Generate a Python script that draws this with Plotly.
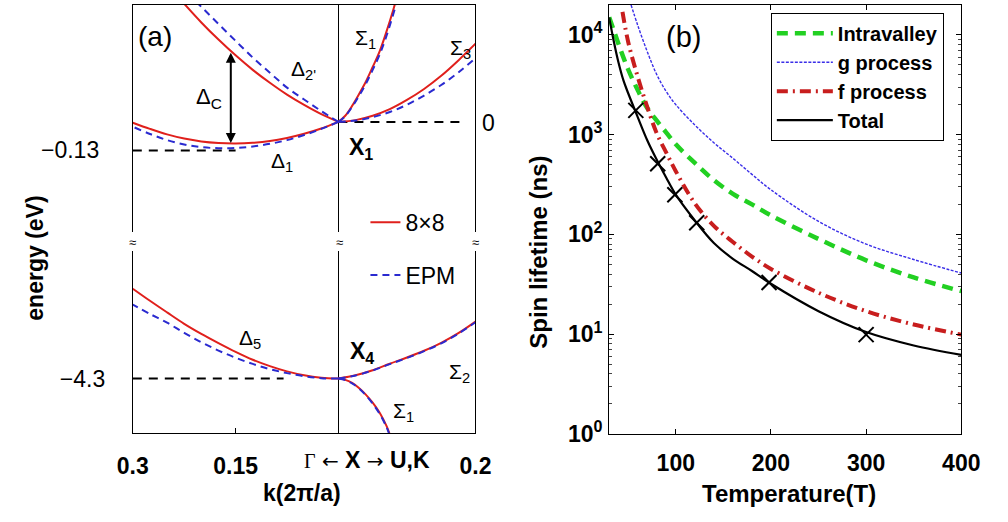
import plotly.graph_objects as go

W, H = 1008, 522
FONT = "Liberation Sans, Arial, Helvetica, sans-serif"

# ---------------- panel (a) data ----------------
# conduction band, Gamma direction (k measured from X, plotted negative)
k_delta1 = [0.0, -0.025, -0.05, -0.075, -0.1, -0.125, -0.15, -0.175, -0.2, -0.225, -0.25, -0.275, -0.3]
delta1_88 = [0.0, -0.030, -0.054, -0.073, -0.087, -0.095, -0.098, -0.096, -0.089, -0.076, -0.057, -0.032, -0.004]
delta1_epm = [0.0, -0.032, -0.060, -0.083, -0.100, -0.112, -0.119, -0.120, -0.115, -0.103, -0.083, -0.055, -0.022]

k_delta2 = [0.0, -0.025, -0.05, -0.075, -0.1, -0.125, -0.15, -0.175, -0.2, -0.225]
delta2_88 = [0.0, 0.035, 0.077, 0.124, 0.178, 0.237, 0.303, 0.375, 0.453, 0.538]
delta2_epm = [0.0, 0.049, 0.102, 0.156, 0.224, 0.293, 0.369, 0.446, 0.524, 0.600]

# conduction band, X -> U,K direction
k_sig1c = [0.0, 0.01, 0.02, 0.03, 0.04, 0.05, 0.06, 0.07, 0.08, 0.09]
sig1c_88 = [0.0, 0.028, 0.073, 0.126, 0.183, 0.250, 0.320, 0.410, 0.510, 0.620]
sig1c_epm = [0.0, 0.026, 0.068, 0.118, 0.173, 0.237, 0.305, 0.390, 0.490, 0.600]

k_sig3 = [0.0, 0.025, 0.05, 0.075, 0.1, 0.125, 0.15, 0.175, 0.2]
sig3_88 = [0.0, 0.008, 0.028, 0.058, 0.100, 0.150, 0.210, 0.280, 0.356]
sig3_epm = [0.0, 0.006, 0.022, 0.045, 0.078, 0.120, 0.168, 0.225, 0.290]

# valence band
k_delta5 = [0.0, -0.025, -0.05, -0.075, -0.1, -0.125, -0.15, -0.175, -0.2, -0.225, -0.25, -0.275, -0.3]
delta5_88 = [-4.300, -4.296, -4.285, -4.267, -4.243, -4.214, -4.178, -4.138, -4.096, -4.050, -3.998, -3.945, -3.890]
delta5_epm = [-4.300, -4.298, -4.289, -4.275, -4.257, -4.233, -4.205, -4.172, -4.134, -4.091, -4.045, -4.005, -3.963]

k_sig2 = [0.0, 0.025, 0.05, 0.075, 0.1, 0.125, 0.15, 0.175, 0.2]
sig2_88 = [-4.300, -4.285, -4.262, -4.232, -4.204, -4.173, -4.137, -4.093, -4.040]
sig2_epm = [-4.300, -4.286, -4.263, -4.234, -4.206, -4.175, -4.139, -4.095, -4.043]

k_sig1v = [0.0, 0.01, 0.02, 0.03, 0.04, 0.05, 0.06, 0.07, 0.075]
sig1v_88 = [-4.300, -4.306, -4.320, -4.343, -4.373, -4.410, -4.455, -4.515, -4.555]
sig1v_epm = [-4.300, -4.307, -4.322, -4.345, -4.376, -4.414, -4.460, -4.520, -4.560]

# reference (black dashed) levels
ref_cmin_k = [-0.3, -0.15]
ref_cmin_e = [-0.13, -0.13]
ref_x1_k = [0.0, 0.185]
ref_x1_e = [0.0, 0.0]
ref_x4_k = [-0.3, -0.08]
ref_x4_e = [-4.3, -4.3]

# ---------------- panel (b) data ----------------
T_intra = [30, 35, 40, 50, 60, 70, 80, 90, 100, 120, 140, 160, 180, 200, 250, 300, 350, 400]
tau_intra = [15000, 11000, 8000, 4500, 2800, 1850, 1380, 1050, 800, 520, 350, 255, 200, 155, 90, 55, 37, 27]

T_g = [53, 60, 70, 80, 90, 100, 120, 140, 160, 180, 200, 250, 300, 350, 400]
tau_g = [20000, 12500, 6800, 4000, 2700, 2000, 1250, 830, 580, 400, 280, 135, 80, 56, 41]

T_f = [44, 50, 60, 70, 80, 90, 100, 120, 140, 160, 180, 200, 250, 300, 350, 400]
tau_f = [17000, 8500, 3800, 1900, 1030, 660, 430, 205, 122, 84, 60, 45, 26, 17, 12.5, 9.9]

T_tot = [30, 35, 40, 45, 50, 60, 70, 80, 90, 100, 120, 140, 160, 180, 200, 250, 300, 350, 400]
tau_tot = [15000, 8500, 5200, 3500, 2600, 1500, 880, 560, 370, 250, 138, 82, 57, 43, 32, 17, 10.5, 7.7, 6.2]

T_exp = [58, 81, 99, 122, 198, 300]
tau_exp = [1750, 510, 250, 131, 33, 9.9]

# ---------------- styles ----------------
RED = "#e0201c"
BLUE = "#2a2ad0"
red_line = dict(color=RED, width=2, shape="spline", smoothing=1)
blue_line = dict(color=BLUE, width=2, dash="7px,5px", shape="spline", smoothing=1)
ref_line = dict(color="black", width=2, dash="9px,7px")


def P(px, py):
    return px / W, 1 - py / H


fig = go.Figure()

for k, e in [(ref_cmin_k, ref_cmin_e), (ref_x1_k, ref_x1_e)]:
    fig.add_trace(go.Scatter(x=k, y=e, mode="lines", line=ref_line, showlegend=False,
                             xaxis="x2", yaxis="y2"))
fig.add_trace(go.Scatter(x=ref_x4_k, y=ref_x4_e, mode="lines", line=ref_line, showlegend=False,
                         xaxis="x", yaxis="y"))

upper = [(k_delta1, delta1_88, delta1_epm), (k_delta2, delta2_88, delta2_epm),
         (k_sig1c, sig1c_88, sig1c_epm), (k_sig3, sig3_88, sig3_epm)]
lower = [(k_delta5, delta5_88, delta5_epm), (k_sig2, sig2_88, sig2_epm),
         (k_sig1v, sig1v_88, sig1v_epm)]

first = True
for grp, xa, ya in [(upper, "x2", "y2"), (lower, "x", "y")]:
    for k, e88, _ in grp:
        fig.add_trace(go.Scatter(x=k, y=e88, mode="lines", line=red_line, name="8×8",
                                 showlegend=first, legend="legend", xaxis=xa, yaxis=ya))
        first = False
first = True
for grp, xa, ya in [(upper, "x2", "y2"), (lower, "x", "y")]:
    for k, _, eep in grp:
        fig.add_trace(go.Scatter(x=k, y=eep, mode="lines", line=blue_line, name="EPM",
                                 showlegend=first, legend="legend2", xaxis=xa, yaxis=ya))
        first = False

# panel (b)
fig.add_trace(go.Scatter(x=T_intra, y=tau_intra, mode="lines", name="<b>Intravalley</b>",
                         line=dict(color="#22d022", width=4.5, dash="11px,7px", shape="spline"),
                         legend="legend3", legendgroup="a", xaxis="x3", yaxis="y3"))
fig.add_trace(go.Scatter(x=T_g, y=tau_g, mode="lines", name="<b>g process</b>",
                         line=dict(color="#3a2ee8", width=1.4, dash="3px,1.5px", shape="spline"),
                         legend="legend3", legendgroup="b", xaxis="x3", yaxis="y3"))
fig.add_trace(go.Scatter(x=T_f, y=tau_f, mode="lines", name="<b>f process</b>",
                         line=dict(color="#c81e1e", width=4, dash="11px,5px,2px,5px", shape="spline"),
                         legend="legend3", legendgroup="c", xaxis="x3", yaxis="y3"))
fig.add_trace(go.Scatter(x=T_tot, y=tau_tot, mode="lines", name="<b>Total</b>",
                         line=dict(color="black", width=2.2, shape="spline"),
                         legend="legend3", legendgroup="d", xaxis="x3", yaxis="y3"))
fig.add_trace(go.Scatter(x=T_exp, y=tau_exp, mode="markers", showlegend=False,
                         marker=dict(symbol="x-thin", size=15, line=dict(color="black", width=2)),
                         xaxis="x3", yaxis="y3"))

# ---------------- layout ----------------
xa_dom = [121 / W, 476 / W]
y_top_dom = [1 - 238 / H, 1 - 5 / H]
y_bot_dom = [1 - 444 / H, 1 - 257 / H]
xb_dom = [614.5 / W, 979.3 / W]
yb_dom = [1 - 445 / H, 1 - 5 / H]

TS = 23
tickfont = dict(family=FONT, size=TS, color="black")

layout = dict(
    width=W, height=H, margin=dict(l=0, r=0, t=0, b=0),
    paper_bgcolor="white", plot_bgcolor="white",
    font=dict(family=FONT, size=TS, color="black"),
    xaxis=dict(domain=xa_dom, anchor="y", range=[-0.3, 0.2], showgrid=False,
               showline=True, linecolor="black", linewidth=1, mirror=False,
               zeroline=True, zerolinecolor="black", zerolinewidth=1,
               tickmode="array", tickvals=[-0.3, -0.15, 0, 0.2],
               ticktext=["<b>0.3</b>", "<b>0.15</b>", "", "<b>0.2</b>"],
               ticks="inside", ticklen=5, tickcolor="black", tickfont=tickfont,
               ticklabelstandoff=12),
    yaxis=dict(domain=y_bot_dom, anchor="x", range=[-4.548, -3.716], showgrid=False,
               showline=True, linecolor="black", linewidth=1, mirror=True, zeroline=False,
               tickmode="array", tickvals=[-4.3], ticktext=["−4.3"], ticks="",
               tickfont=tickfont, ticklabelstandoff=22),
    xaxis2=dict(domain=xa_dom, anchor="y2", range=[-0.3, 0.2], matches="x", side="top",
                showgrid=False, showline=True, linecolor="black", linewidth=1, mirror=False,
                zeroline=True, zerolinecolor="black", zerolinewidth=1,
                showticklabels=False, ticks=""),
    yaxis2=dict(domain=y_top_dom, anchor="x2", range=[-0.502, 0.533], showgrid=False,
                showline=True, linecolor="black", linewidth=1, mirror=True, zeroline=False,
                tickmode="array", tickvals=[-0.13], ticktext=["−0.13"], ticks="",
                tickfont=tickfont, ticklabelstandoff=28),
    xaxis3=dict(domain=xb_dom, anchor="y3", range=[30, 400], showgrid=False,
                showline=True, linecolor="black", linewidth=1, mirror="allticks",
                zeroline=False, tickmode="array", tickvals=[100, 200, 300, 400],
                ticktext=["<b>100</b>", "<b>200</b>", "<b>300</b>", "<b>400</b>"],
                ticks="inside", ticklen=5, tickcolor="black", tickfont=tickfont,
                ticklabelstandoff=8),
    yaxis3=dict(domain=yb_dom, anchor="x3", type="log", range=[0, 4.301], showgrid=False,
                showline=True, linecolor="black", linewidth=1, mirror="allticks",
                zeroline=False, tickmode="array", tickvals=[1, 10, 100, 1000, 10000],
                ticktext=["<b>10<sup>0</sup></b>", "<b>10<sup>1</sup></b>", "<b>10<sup>2</sup></b>",
                          "<b>10<sup>3</sup></b>", "<b>10<sup>4</sup></b>"],
                ticks="inside", ticklen=5, tickcolor="black", tickfont=tickfont,
                ticklabelstandoff=1,
                minor=dict(ticks="inside", ticklen=3, tickcolor="#444",
                           tickvals=[m * 10 ** e for e in range(5) for m in range(2, 10)])),
    legend=dict(x=P(362, 228)[0], y=P(362, 228)[1], xanchor="left", yanchor="middle",
                bgcolor="rgba(0,0,0,0)", borderwidth=0,
                font=dict(family=FONT, size=23, color="black")),
    legend2=dict(x=P(362, 282)[0], y=P(362, 282)[1], xanchor="left", yanchor="middle",
                 bgcolor="rgba(0,0,0,0)", borderwidth=0,
                 font=dict(family=FONT, size=23, color="black")),
    legend3=dict(x=P(782, 13)[0], y=P(782, 13)[1], xanchor="left", yanchor="top",
                 bgcolor="white", bordercolor="black", borderwidth=1,
                 tracegroupgap=0, itemwidth=56,
                 font=dict(family=FONT, size=20, color="black")),
)
fig.update_layout(**layout)

anns = []


def txt(s, px, py, size=22, angle=0, xanchor="center", **kw):
    x, y = P(px, py)
    anns.append(dict(text=s, x=x, y=y, xref="paper", yref="paper", showarrow=False,
                     xanchor=xanchor, yanchor="middle", textangle=angle,
                     font=dict(family=FONT, size=size, color="black"), **kw))


txt("(a)", 144, 37, 28)
txt("Δ<sub>C</sub>", 200, 101, 22)
txt("Δ<sub>2'</sub>", 298, 72, 21)
txt("Δ<sub>1</sub>", 276, 166, 21)
txt("Σ<sub>1</sub>", 362, 40, 21)
txt("Σ<sub>3</sub>", 460, 50, 21)
txt("<b>X<sub>1</sub></b>", 357, 152, 23)
txt("0", 489, 126, 23)
txt("Δ<sub>5</sub>", 242, 348, 21)
txt("<b>X<sub>4</sub></b>", 358, 362, 23)
txt("Σ<sub>2</sub>", 459, 383, 21)
txt("Σ<sub>1</sub>", 401, 423, 21)
for bx in (121, 335, 476):
    txt("≈", bx, 249, 13)
# direction label under the X point (X aligned with the X line)
txt('<span style="font-family:Liberation Serif;font-size:20px">Γ</span>'
    '<span style="font-family:DejaVu Sans;font-size:20px"> ← </span><b>X</b>'
    '<span style="font-family:DejaVu Sans;font-size:20px"> → </span><b>U,K</b>',
    296, 472, 23, xanchor="left")
txt("<b>energy (eV)</b>", 20, 265, 23, angle=-90)
txt("<b>k(2π/a)</b>", 296, 506, 23)
txt("(b)", 692, 38, 29)
txt("<b>Spin lifetime (ns)</b>", 541, 259, 24, angle=-90)
txt("<b>Temperature(T)</b>", 801, 506, 24)

# Delta_C double arrow
anns.append(dict(x=-0.157, y=-0.096, ax=-0.157, ay=0.322, xref="x2", yref="y2",
                 axref="x2", ayref="y2", showarrow=True, arrowhead=2, arrowsize=1,
                 arrowwidth=2, arrowcolor="black", arrowside="end+start", text=""))

fig.update_layout(annotations=anns)

fig.write_html("out.html")
